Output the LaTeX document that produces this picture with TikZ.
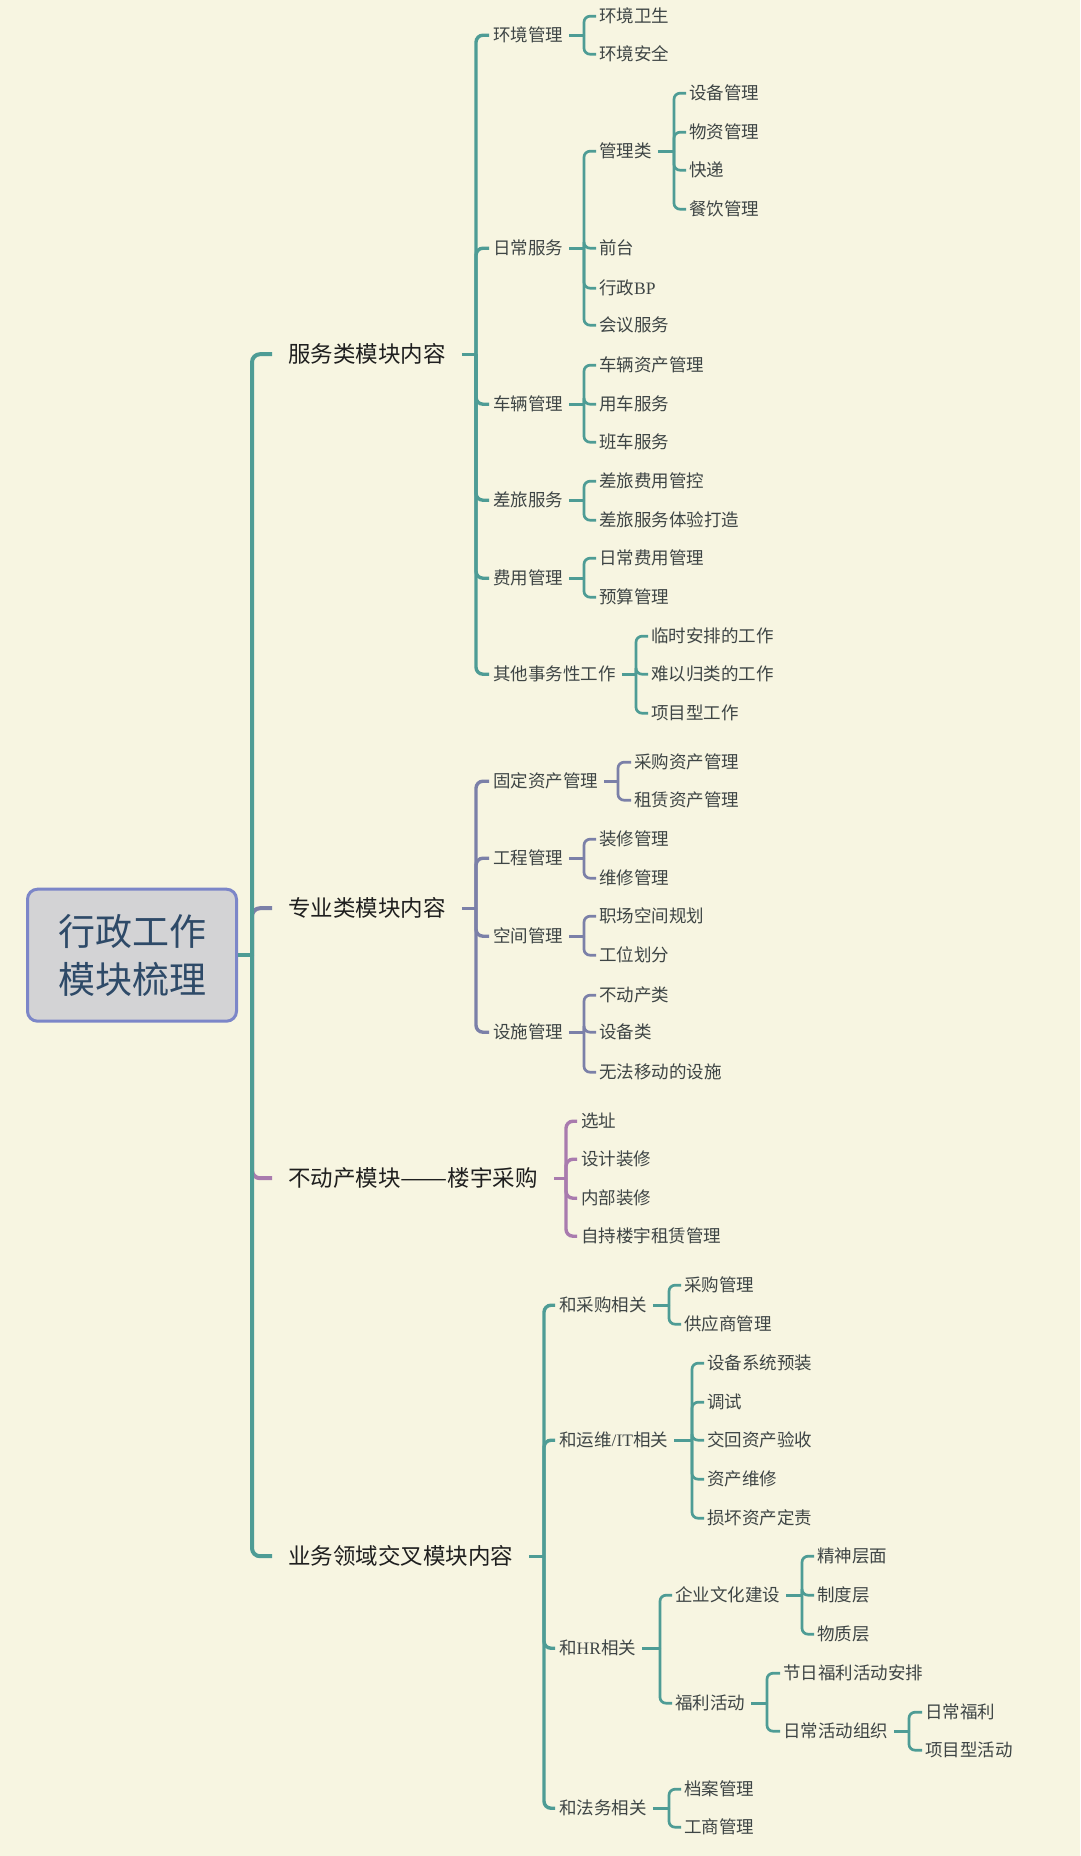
\documentclass[tikz,border=0pt]{standalone}
\usepackage{fontspec}
\setmainfont{Noto Sans CJK SC}
\newfontfamily\latserif{Liberation Serif}
\definecolor{bg}{HTML}{F7F5E1}
\definecolor{tealc}{HTML}{4E9C95}
\definecolor{grayb}{HTML}{7B80A8}
\definecolor{purp}{HTML}{A97BAE}
\definecolor{rootfill}{HTML}{D3D3D5}
\definecolor{rootdraw}{HTML}{7C86C8}
\definecolor{roottext}{HTML}{2E4A68}
\definecolor{txt}{HTML}{3E4545}
\tikzset{
 Lone/.style={anchor=west,inner sep=0pt,font=\fontsize{22.5}{26}\selectfont,text=black!88},
 Ltwo/.style={anchor=west,inner sep=0pt,font=\fontsize{17.5}{21}\selectfont,text=txt},
 cone/.style={line width=4pt,rounded corners=8pt},
 ctwo/.style={line width=3.4pt,rounded corners=7pt},
 cthree/.style={line width=2.7pt,rounded corners=6pt},
}
\newcommand\grp[4]{%
 \draw[#1] ([xshift=6pt]#2.east) -- (#3);
 \foreach \k in {#4} {\draw[#1] (#3) |- ([xshift=-3pt]\k.west);}}
\begin{document}
\begin{tikzpicture}[x=1pt,y=-1pt]
\fill[bg] (0,0) rectangle (1080,1856);
\useasboundingbox (0,0) rectangle (1080,1856);
\begin{scope}[yshift=-1.2pt]
% root
\node[draw=rootdraw,line width=3pt,fill=rootfill,rounded corners=10pt,minimum width=209pt,minimum height=132pt,align=center,font=\fontsize{37}{48}\selectfont,text=roottext] (root) at (132,954) {行政工作\\模块梳理};
% level 1
\node[Lone] (A) at (288,353) {服务类模块内容};
\node[Lone] (B) at (288,907) {专业类模块内容};
\node[Lone] (C) at (288,1177) {不动产模块\scalebox{1.25}[1]{——}楼宇采购};
\node[Lone] (D) at (288,1555) {业务领域交叉模块内容};
\coordinate (tj) at (252,954);
\draw[cone,grayb] (tj) |- ([xshift=-16pt]B.west);
\draw[cone,purp] (tj) |- ([xshift=-16pt]C.west);
\draw[cone,tealc] (root.east) -- (tj);
\draw[cone,tealc] (tj) |- ([xshift=-16pt]A.west);
\draw[cone,tealc] (tj) |- ([xshift=-16pt]D.west);
% ---------- A
\node[Ltwo] (A1) at (493,34) {环境管理};
\node[Ltwo] (A2) at (493,247) {日常服务};
\node[Ltwo] (A3) at (493,403) {车辆管理};
\node[Ltwo] (A4) at (493,499) {差旅服务};
\node[Ltwo] (A5) at (493,577) {费用管理};
\node[Ltwo] (A6) at (493,673) {其他事务性工作};
\coordinate (Aj) at (476,353);
\draw[ctwo,tealc] ([xshift=16pt]A.east) -- (Aj);
\foreach \k in {A1,A2,A3,A4,A5,A6} {\draw[ctwo,tealc] (Aj) |- ([xshift=-4pt]\k.west);}
\node[Ltwo] (A11) at (599,15) {环境卫生};
\node[Ltwo] (A12) at (599,53) {环境安全};
\coordinate (A1j) at (584,34);
\grp{cthree,tealc}{A1}{A1j}{A11,A12}
\node[Ltwo] (A21) at (599,150) {管理类};
\node[Ltwo] (A22) at (599,247) {前台};
\node[Ltwo] (A23) at (599,287) {行政{\latserif BP}};
\node[Ltwo] (A24) at (599,324) {会议服务};
\coordinate (A2j) at (584,247);
\grp{cthree,tealc}{A2}{A2j}{A21,A22,A23,A24}
\node[Ltwo] (A211) at (689,92) {设备管理};
\node[Ltwo] (A212) at (689,131) {物资管理};
\node[Ltwo] (A213) at (689,169) {快递};
\node[Ltwo] (A214) at (689,208) {餐饮管理};
\coordinate (A21j) at (674,150);
\grp{cthree,tealc}{A21}{A21j}{A211,A212,A213,A214}
\node[Ltwo] (A31) at (599,364) {车辆资产管理};
\node[Ltwo] (A32) at (599,403) {用车服务};
\node[Ltwo] (A33) at (599,441) {班车服务};
\coordinate (A3j) at (584,403);
\grp{cthree,tealc}{A3}{A3j}{A31,A32,A33}
\node[Ltwo] (A41) at (599,480) {差旅费用管控};
\node[Ltwo] (A42) at (599,519) {差旅服务体验打造};
\coordinate (A4j) at (584,499);
\grp{cthree,tealc}{A4}{A4j}{A41,A42}
\node[Ltwo] (A51) at (599,557) {日常费用管理};
\node[Ltwo] (A52) at (599,596) {预算管理};
\coordinate (A5j) at (584,577);
\grp{cthree,tealc}{A5}{A5j}{A51,A52}
\node[Ltwo] (A61) at (651,635) {临时安排的工作};
\node[Ltwo] (A62) at (651,673) {难以归类的工作};
\node[Ltwo] (A63) at (651,712) {项目型工作};
\coordinate (A6j) at (636,673);
\grp{cthree,tealc}{A6}{A6j}{A61,A62,A63}
% ---------- B
\node[Ltwo] (B1) at (493,780) {固定资产管理};
\node[Ltwo] (B2) at (493,857) {工程管理};
\node[Ltwo] (B3) at (493,935) {空间管理};
\node[Ltwo] (B4) at (493,1031) {设施管理};
\coordinate (Bj) at (476,907);
\draw[ctwo,grayb] ([xshift=16pt]B.east) -- (Bj);
\foreach \k in {B1,B2,B3,B4} {\draw[ctwo,grayb] (Bj) |- ([xshift=-4pt]\k.west);}
\node[Ltwo] (B11) at (634,761) {采购资产管理};
\node[Ltwo] (B12) at (634,799) {租赁资产管理};
\coordinate (B1j) at (618,780);
\grp{cthree,grayb}{B1}{B1j}{B11,B12}
\node[Ltwo] (B21) at (599,838) {装修管理};
\node[Ltwo] (B22) at (599,877) {维修管理};
\coordinate (B2j) at (584,857);
\grp{cthree,grayb}{B2}{B2j}{B21,B22}
\node[Ltwo] (B31) at (599,915) {职场空间规划};
\node[Ltwo] (B32) at (599,954) {工位划分};
\coordinate (B3j) at (584,935);
\grp{cthree,grayb}{B3}{B3j}{B31,B32}
\node[Ltwo] (B41) at (599,994) {不动产类};
\node[Ltwo] (B42) at (599,1031) {设备类};
\node[Ltwo] (B43) at (599,1071) {无法移动的设施};
\coordinate (B4j) at (584,1031);
\grp{cthree,grayb}{B4}{B4j}{B41,B42,B43}
% ---------- C
\node[Ltwo] (C1) at (581,1120) {选址};
\node[Ltwo] (C2) at (581,1158) {设计装修};
\node[Ltwo] (C3) at (581,1197) {内部装修};
\node[Ltwo] (C4) at (581,1235) {自持楼宇租赁管理};
\coordinate (Cj) at (566,1177);
\draw[ctwo,purp] ([xshift=16pt]C.east) -- (Cj);
\foreach \k in {C1,C2,C3,C4} {\draw[ctwo,purp] (Cj) |- ([xshift=-4pt]\k.west);}
% ---------- D
\node[Ltwo] (D1) at (559,1304) {和采购相关};
\node[Ltwo] (D2) at (559,1439) {和运维{\latserif /IT}相关};
\node[Ltwo] (D3) at (559,1647) {和{\latserif HR}相关};
\node[Ltwo] (D4) at (559,1807) {和法务相关};
\coordinate (Dj) at (544,1555);
\draw[ctwo,tealc] ([xshift=16pt]D.east) -- (Dj);
\foreach \k in {D1,D2,D3,D4} {\draw[ctwo,tealc] (Dj) |- ([xshift=-4pt]\k.west);}
\node[Ltwo] (D11) at (684,1284) {采购管理};
\node[Ltwo] (D12) at (684,1323) {供应商管理};
\coordinate (D1j) at (669,1304);
\grp{cthree,tealc}{D1}{D1j}{D11,D12}
\node[Ltwo] (D21) at (707,1362) {设备系统预装};
\node[Ltwo] (D22) at (707,1401) {调试};
\node[Ltwo] (D23) at (707,1439) {交回资产验收};
\node[Ltwo] (D24) at (707,1478) {资产维修};
\node[Ltwo] (D25) at (707,1517) {损坏资产定责};
\coordinate (D2j) at (692,1439);
\grp{cthree,tealc}{D2}{D2j}{D21,D22,D23,D24,D25}
\node[Ltwo] (D31) at (675,1594) {企业文化建设};
\node[Ltwo] (D32) at (675,1702) {福利活动};
\coordinate (D3j) at (660,1647);
\grp{cthree,tealc}{D3}{D3j}{D31,D32}
\node[Ltwo] (D311) at (817,1555) {精神层面};
\node[Ltwo] (D312) at (817,1594) {制度层};
\node[Ltwo] (D313) at (817,1633) {物质层};
\coordinate (D31j) at (802,1594);
\grp{cthree,tealc}{D31}{D31j}{D311,D312,D313}
\node[Ltwo] (D321) at (783,1672) {节日福利活动安排};
\node[Ltwo] (D322) at (783,1730) {日常活动组织};
\coordinate (D32j) at (767,1702);
\grp{cthree,tealc}{D32}{D32j}{D321,D322}
\node[Ltwo] (D3221) at (925,1711) {日常福利};
\node[Ltwo] (D3222) at (925,1749) {项目型活动};
\coordinate (D322j) at (909,1730);
\grp{cthree,tealc}{D322}{D322j}{D3221,D3222}
\node[Ltwo] (D41) at (684,1788) {档案管理};
\node[Ltwo] (D42) at (684,1826) {工商管理};
\coordinate (D4j) at (669,1807);
\grp{cthree,tealc}{D4}{D4j}{D41,D42}
\end{scope}
\end{tikzpicture}
\end{document}
